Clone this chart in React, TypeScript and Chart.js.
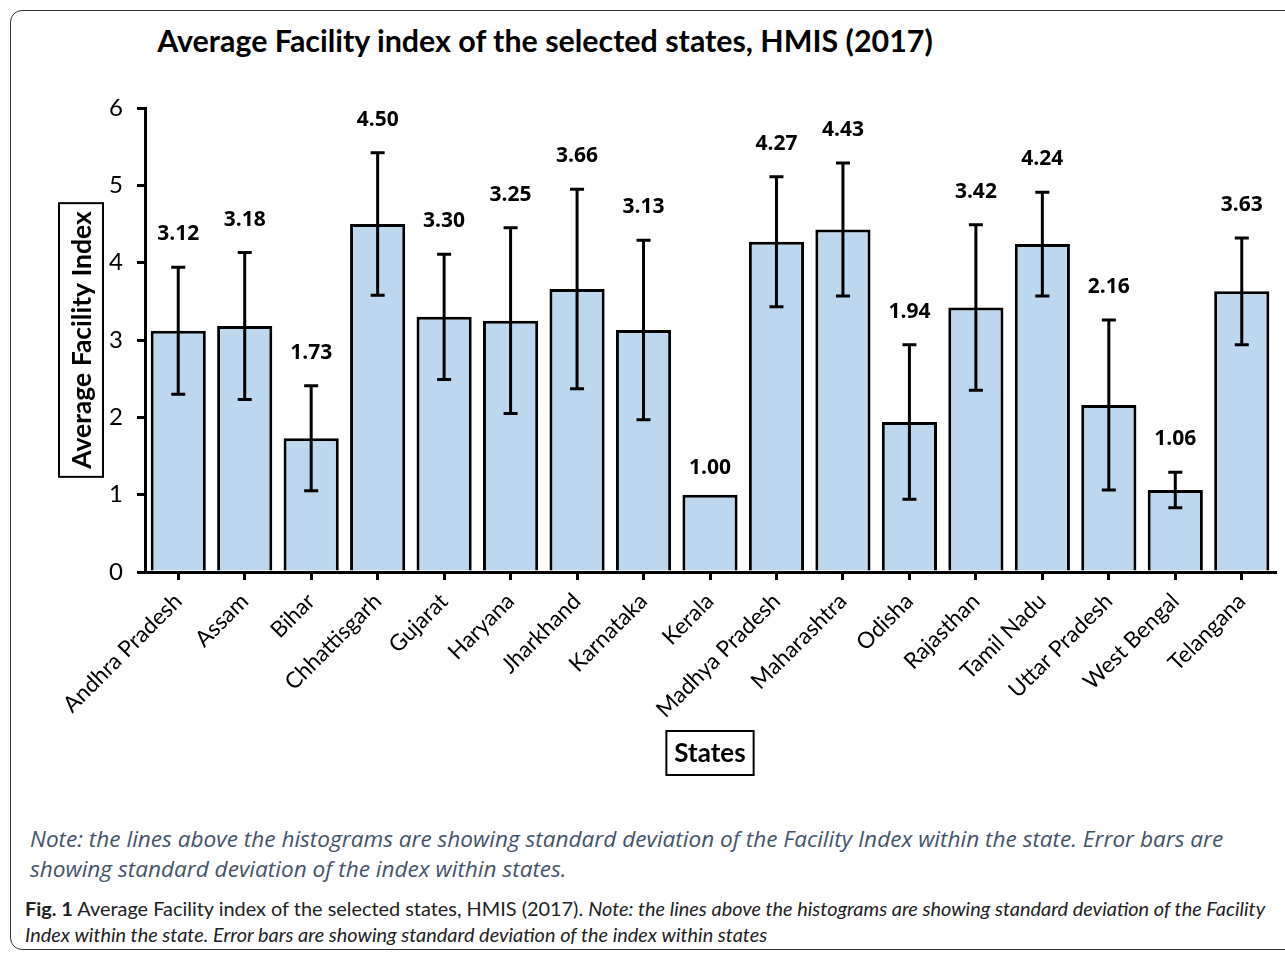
import React, { useEffect, useRef } from "react";
import { Chart, registerables } from "chart.js";

Chart.register(...registerables);

const states = [
  "Andhra Pradesh", "Assam", "Bihar", "Chhattisgarh", "Gujarat", "Haryana",
  "Jharkhand", "Karnataka", "Kerala", "Madhya Pradesh", "Maharashtra", "Odisha",
  "Rajasthan", "Tamil Nadu", "Uttar Pradesh", "West Bengal", "Telangana",
];
const avgIndex = [3.12, 3.18, 1.73, 4.5, 3.3, 3.25, 3.66, 3.13, 1.0, 4.27, 4.43, 1.94, 3.42, 4.24, 2.16, 1.06, 3.63];
const stdDev = [0.82, 0.95, 0.68, 0.92, 0.81, 1.2, 1.29, 1.16, 0, 0.84, 0.86, 1.0, 1.07, 0.67, 1.1, 0.23, 0.69];
const yTicks = [0, 1, 2, 3, 4, 5, 6];

const FONT = "Lato, 'Open Sans', sans-serif";
const FONT2 = "'Open Sans', Lato, sans-serif";

const overlayPlugin = {
  id: "overlay",
  afterDatasetsDraw(chart: any) {
    const ctx = chart.ctx;
    const meta = chart.getDatasetMeta(0);
    const y = chart.scales.y;
    ctx.save();
    // error bars
    ctx.strokeStyle = "#000";
    ctx.lineWidth = 3;
    meta.data.forEach((bar: any, i: number) => {
      const sd = stdDev[i];
      if (!sd) return;
      const cx = bar.x;
      const top = y.getPixelForValue(avgIndex[i] + sd);
      const bot = y.getPixelForValue(avgIndex[i] - sd);
      ctx.beginPath();
      ctx.moveTo(cx, top);
      ctx.lineTo(cx, bot);
      ctx.moveTo(cx - 7, top);
      ctx.lineTo(cx + 7, top);
      ctx.moveTo(cx - 7, bot);
      ctx.lineTo(cx + 7, bot);
      ctx.stroke();
    });
    // value labels
    ctx.fillStyle = "#000";
    ctx.font = `bold 21px ${FONT2}`;
    ctx.textAlign = "center";
    ctx.textBaseline = "middle";
    meta.data.forEach((bar: any, i: number) => {
      const sd = stdDev[i];
      const ly = sd ? y.getPixelForValue(avgIndex[i] + sd) - 33 : y.getPixelForValue(avgIndex[i]) - 27;
      ctx.fillText(avgIndex[i].toFixed(2), bar.x, ly);
    });
    // y axis title (boxed)
    const area = chart.chartArea;
    const ycx = 81;
    const ycy = (area.top + area.bottom) / 2;
    ctx.translate(ycx, ycy);
    ctx.rotate(-Math.PI / 2);
    ctx.font = `bold 26.5px ${FONT}`;
    const yt = "Average Facility Index";
    const yw = ctx.measureText(yt).width;
    ctx.lineWidth = 2;
    ctx.strokeRect(-yw / 2 - 8, -22, yw + 16, 44);
    ctx.fillText(yt, 0, 1);
    ctx.setTransform(1, 0, 0, 1, 0, 0);
    // x axis title (boxed)
    const xcx = (area.left + area.right) / 2;
    const xcy = 753;
    ctx.font = `bold 26px ${FONT}`;
    const xt = "States";
    const xw = ctx.measureText(xt).width;
    ctx.strokeRect(xcx - xw / 2 - 8, xcy - 22, xw + 16, 44);
    ctx.fillText(xt, xcx, xcy + 1);
    ctx.restore();
  },
};

export default function App() {
  const ref = useRef<HTMLCanvasElement>(null);
  useEffect(() => {
    if (!ref.current) return;
    const chart = new Chart(ref.current, {
      type: "bar",
      data: {
        labels: states,
        datasets: [
          {
            data: avgIndex,
            backgroundColor: "#BDD7EE",
            borderColor: "#000",
            borderWidth: 3,
            barPercentage: 0.83,
            categoryPercentage: 1,
          },
        ],
      },
      options: {
        animation: false,
        responsive: false,
        maintainAspectRatio: false,
        layout: { padding: { top: 108, right: 10, left: 0, bottom: 0 } },
        plugins: { legend: { display: false }, tooltip: { enabled: false }, title: { display: false } },
        scales: {
          x: {
            offset: true,
            grid: { display: true, drawOnChartArea: false, offset: false, tickLength: 8, lineWidth: 3, color: "#000" },
            border: { display: true, width: 3, color: "#000" },
            ticks: {
              autoSkip: false,
              minRotation: 45,
              maxRotation: 45,
              padding: 8,
              color: "#000",
              font: { family: FONT, size: 22.5 },
            },
            afterFit: (s: any) => { s.height = 800 - 572; },
          },
          y: {
            min: 0,
            max: 6,
            afterBuildTicks: (s: any) => { s.ticks = yTicks.map((v) => ({ value: v })); },
            grid: { display: true, drawOnChartArea: false, tickLength: 8, lineWidth: 3, color: "#000" },
            border: { display: true, width: 3, color: "#000" },
            ticks: { padding: 14, color: "#000", font: { family: FONT, size: 24 } },
            afterFit: (s: any) => { s.width = 145; },
          },
        },
      },
      plugins: [overlayPlugin],
    });
    return () => chart.destroy();
  }, []);

  return (
    <div style={{ position: "absolute", left: 0, top: 0, width: 1285, height: 953, overflow: "hidden", background: "#fff" }}>
      <div style={{ position: "absolute", left: 10, top: 10, width: 1300, height: 940, border: "1.5px solid #333", borderRadius: 12, boxSizing: "border-box" }} />
      <div style={{ position: "absolute", left: 545, top: 20, transform: "translateX(-50%)", whiteSpace: "nowrap", fontFamily: FONT, fontWeight: "bold", fontSize: 30.4, lineHeight: "40px", color: "#000" }}>
        Average Facility index of the selected states, HMIS (2017)
      </div>
      <canvas ref={ref} width={1285} height={800} style={{ position: "absolute", left: 0, top: 0, width: 1285, height: 800 }} />
      <div style={{ position: "absolute", left: 30, top: 824, whiteSpace: "nowrap", fontFamily: FONT2, fontStyle: "italic", fontSize: 22.6, lineHeight: "30px", color: "#44546A" }}>
        Note: the lines above the histograms are showing standard deviation of the Facility Index within the state. Error bars are<br />
        showing standard deviation of the index within states.
      </div>
      <div style={{ position: "absolute", left: 25, top: 895, whiteSpace: "nowrap", fontFamily: FONT, fontSize: 19.9, lineHeight: "26px", color: "#222" }}>
        <b>Fig. 1</b> Average Facility index of the selected states, HMIS (2017). <i>Note: the lines above the histograms are showing standard deviation of the Facility</i><br />
        <i>Index within the state. Error bars are showing standard deviation of the index within states</i>
      </div>
    </div>
  );
}
